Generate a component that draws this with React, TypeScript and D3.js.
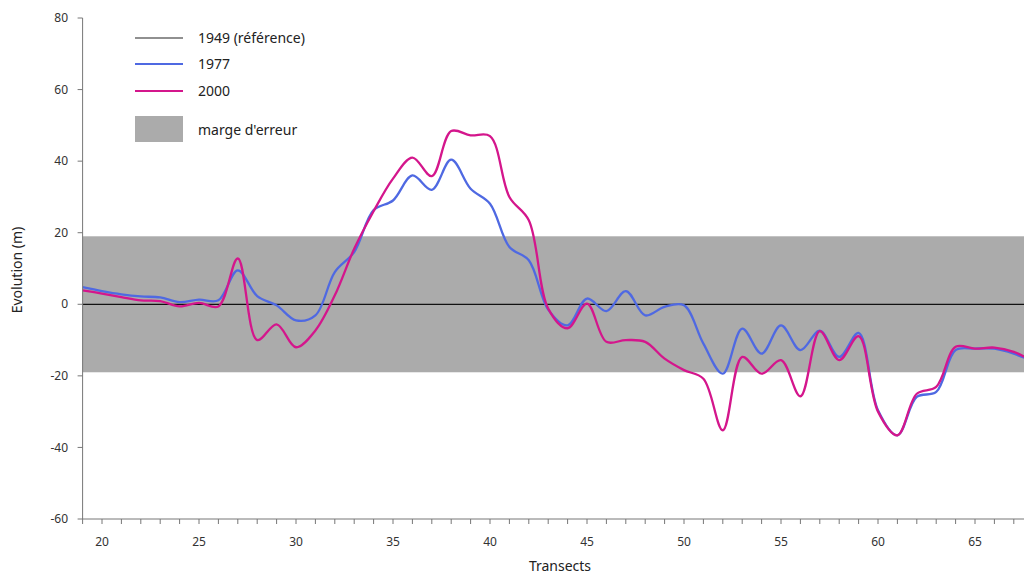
import React from "react";
import * as d3 from "d3";

const transects = [19,20,21,22,23,24,25,26,27,28,29,30,31,32,33,34,35,36,37,38,39,40,41,42,43,44,45,46,47,48,49,50,51,52,53,54,55,56,57,58,59,60,61,62,63,64,65,66,67,68];
const v1977 = [4.8,3.7,2.8,2.2,1.9,0.6,1.3,1.1,9.5,2.3,-0.3,-4.5,-3.1,9.0,14.6,26.3,29,36,32,40.4,32.3,28.1,16,12.3,-1.5,-5.9,1.6,-1.9,3.7,-3.1,-0.7,-0.3,-11,-19.4,-6.8,-13.8,-5.9,-12.8,-7.4,-14.7,-8,-29.6,-36.6,-25.9,-24.5,-12.8,-12.4,-12.4,-13.8,-16];
const v2000 = [3.9,3.0,2.0,1.1,0.9,-0.6,0.4,-0.6,12.8,-10,-5.6,-12,-7.3,2.5,15.5,26,35.1,41,35.8,48.4,47.2,47,30,23.5,-1.2,-6.7,0.2,-10.5,-10,-10.5,-15.2,-18.4,-20.8,-35.2,-14.7,-19.4,-15.6,-25.7,-7.5,-15.6,-8.9,-30,-36.6,-25,-23.1,-11.9,-12.4,-12.1,-13.3,-16];
const errorMargin = 19;
const yTicks = [-60,-40,-20,0,20,40,60,80];
const xLabelTicks = [20,25,30,35,40,45,50,55,60,65];
const legendItems = ["1949 (référence)", "1977", "2000", "marge d'erreur"];

const BLUE = "#4f69e2";
const MAGENTA = "#d4168c";
const FONT = "'Noto Sans', 'Open Sans', sans-serif";

export default function App() {
  const W = 1024, H = 577;
  const x = d3.scaleLinear().domain([20, 65]).range([102, 975]);
  const y = d3.scaleLinear().domain([-60, 80]).range([519, 18]);
  const x0 = x(19);
  const line = d3.line<number>()
    .x((_, i) => x(transects[i]))
    .y((d) => y(d))
    .curve(d3.curveCatmullRom.alpha(0.5));
  const minorTicks = d3.range(19, 69);
  return (
    <svg width={W} height={H} style={{ position: "absolute", left: 0, top: 0, background: "#fff" }} fontFamily={FONT}>
      <defs>
        <clipPath id="plot"><rect x={x0} y={0} width={W - x0} height={519} /></clipPath>
      </defs>
      <rect x={x0} y={y(errorMargin)} width={W - x0} height={y(-errorMargin) - y(errorMargin)} fill="#ababab" />
      <line x1={x0} x2={W} y1={y(0)} y2={y(0)} stroke="#111" strokeWidth={1.2} />
      <g clipPath="url(#plot)">
        <path d={line(v1977) || ""} fill="none" stroke={BLUE} strokeWidth={2.3} />
        <path d={line(v2000) || ""} fill="none" stroke={MAGENTA} strokeWidth={2.3} />
      </g>
      {/* y axis */}
      <line x1={x0} x2={x0} y1={y(80)} y2={y(-60)} stroke="#777" strokeWidth={1} />
      {yTicks.map((t) => (
        <g key={t}>
          <line x1={x0 - 5} x2={x0} y1={y(t)} y2={y(t)} stroke="#777" />
          <text x={68} y={y(t)} dy="0.35em" textAnchor="end" fontSize={12} fill="#333">{t}</text>
        </g>
      ))}
      {/* x axis */}
      <line x1={x0} x2={W} y1={y(-60)} y2={y(-60)} stroke="#777" strokeWidth={1} />
      {minorTicks.map((t) => (
        <line key={t} x1={x(t)} x2={x(t)} y1={y(-60)} y2={y(-60) + 5} stroke="#777" />
      ))}
      {xLabelTicks.map((t) => (
        <text key={t} x={x(t)} y={546} textAnchor="middle" fontSize={12} fill="#333">{t}</text>
      ))}
      <text x={560} y={571} textAnchor="middle" fontSize={14} fill="#222">Transects</text>
      <text transform={`translate(22,270) rotate(-90)`} textAnchor="middle" fontSize={14} fill="#222">Evolution (m)</text>
      {/* legend */}
      <g>
        <line x1={135} x2={183} y1={38} y2={38} stroke="#222" strokeWidth={1.2} />
        <text x={198} y={38} dy="0.35em" fontSize={14} fill="#222">{legendItems[0]}</text>
        <line x1={135} x2={183} y1={64} y2={64} stroke={BLUE} strokeWidth={2} />
        <text x={198} y={64} dy="0.35em" fontSize={14} fill="#222">{legendItems[1]}</text>
        <line x1={135} x2={183} y1={91} y2={91} stroke={MAGENTA} strokeWidth={2} />
        <text x={198} y={91} dy="0.35em" fontSize={14} fill="#222">{legendItems[2]}</text>
        <rect x={135} y={116} width={48} height={26} fill="#ababab" />
        <text x={198} y={130} dy="0.35em" fontSize={14} fill="#222">{legendItems[3]}</text>
      </g>
    </svg>
  );
}
